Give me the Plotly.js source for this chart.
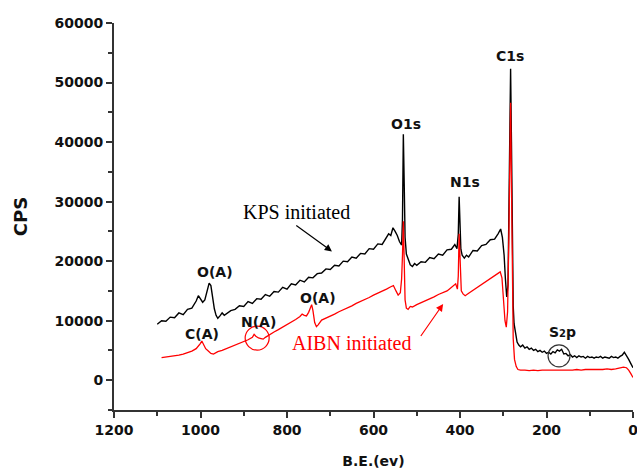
<!DOCTYPE html>
<html>
<head>
<meta charset="utf-8">
<script src="https://cdn.plot.ly/plotly-3.0.1.min.js"></script>
<style>html,body{margin:0;padding:0;background:#fff;}#chart{width:637px;height:470px;}</style>
</head>
<body>
<div id="chart"></div>
<script>
// KPS initiated (black) spectrum: binding energy (eV) and counts per second
const kpsBE = [1100,1090,1080,1070,1060,1050,1040,1030,1020,1010,1005,1000,995,990,985,980,976,972,968,964,960,955,950,945,940,930,920,910,900,890,880,870,860,850,840,830,820,810,800,790,780,770,760,750,740,730,720,710,700,690,680,670,660,650,640,630,620,610,600,590,580,570,565,560,555,550,545,540,535,533,531,529,527,524,520,515,510,505,500,490,480,470,460,450,440,430,420,412,407,404,402,400,398,395,390,385,380,370,360,350,340,330,320,312,306,302,298,295,292,289,287,285,283,281,279,277,275,272,268,264,260,255,250,245,240,235,230,225,220,215,210,205,200,195,190,185,180,175,170,165,160,155,150,145,140,135,130,125,120,115,110,105,100,95,90,85,80,75,70,65,60,55,50,45,40,35,30,25,20,15,10,5,0];
const kpsCPS = [9400,10000,9900,10600,10500,11300,11000,11900,12100,13300,14200,13700,13100,13500,14700,16300,15900,13600,12000,10900,10400,10800,11300,10900,11200,11700,11900,12500,12400,13200,12900,13700,13600,14400,14100,14900,14800,15600,15300,16200,16000,16800,16500,17300,17200,17900,18000,18700,18600,19300,19200,20000,19900,20700,20500,21300,21200,22100,22000,22900,22800,23900,24600,24300,25600,25000,24300,23300,22700,27000,41300,33000,24000,21200,20300,19400,19100,19600,19300,19900,19800,20600,20400,21200,21000,21900,22000,22800,22100,24500,30800,27000,22000,21000,20500,21000,20700,21800,21700,22600,22800,23600,23700,24600,25400,24000,21000,17000,14000,16000,30000,44000,52300,40000,22000,12500,9500,7800,6400,5900,5600,5900,5400,5600,5200,5400,5000,5200,4800,5000,4700,4900,4500,4700,4400,4800,4600,5100,4900,5200,4400,4500,4100,4300,3900,4100,3800,4100,3900,4000,3700,4000,3800,3900,3700,3900,3800,4000,3700,3900,3800,3700,4000,3800,3900,3700,4000,4200,4700,4200,3500,2800,2100];

// AIBN initiated (red) spectrum
const aibnBE = [1090,1080,1070,1060,1050,1040,1030,1020,1010,1005,1000,997,993,988,982,976,970,965,960,950,940,930,920,910,900,890,880,876,872,866,860,855,850,840,830,820,810,800,790,780,770,765,760,755,750,746,743,740,736,732,728,720,710,700,690,680,670,660,650,640,630,620,610,600,590,580,570,560,554,548,543,538,535,533,531,529,527,524,520,515,510,500,490,480,470,460,450,440,430,425,420,415,410,406,404,402,400,397,393,388,380,370,360,350,340,330,320,312,307,303,299,296,293,290,287,285,283,281,279,277,274,270,266,260,250,240,230,220,210,200,190,180,170,160,150,140,130,120,110,100,90,80,70,60,50,40,30,22,15,10,5,0];
const aibnCPS = [3800,3900,3950,4100,4200,4400,4600,4900,5300,5700,6200,6600,6000,5300,4900,4500,4400,4600,4800,5000,5300,5500,5800,6100,6400,6800,7200,7700,7400,7100,7000,6900,7200,7700,8100,8500,8900,9300,9800,10200,10700,11100,10900,10800,11400,12000,12700,11700,9700,9000,9300,10100,10400,10800,11100,11500,11800,12200,12500,12900,13200,13600,13900,14300,14600,15000,15300,15700,15900,15000,14300,14700,17000,21000,26700,20000,13500,12100,11900,12400,12300,12700,13000,13400,13700,14000,14400,14700,15000,15300,15600,15900,16200,15300,17500,24600,19000,15000,14500,14200,14600,15100,15600,16100,16600,17100,17500,18000,18200,17200,13000,10000,8900,11500,24000,38000,46600,33000,15000,7000,3500,2300,1800,1700,1700,1600,1700,1600,1700,1700,1600,1700,1700,1600,1700,1700,1800,1700,1800,1800,1700,1800,1800,1900,1800,1900,2000,2200,2100,1700,1100,450];

// tick settings
const xTicks = [1200,1000,800,600,400,200,0];
const yTicks = [0,10000,20000,30000,40000,50000,60000];

const boldFont = {family: 'DejaVu Sans, Arial, sans-serif', size: 14, color: '#111', weight: 'bold'};
const serifFont = {family: 'Liberation Serif, Times New Roman, serif', size: 20};

const traces = [
  {x: kpsBE, y: kpsCPS, type: 'scatter', mode: 'lines', line: {color: '#000', width: 1.4}, name: 'KPS initiated'},
  {x: aibnBE, y: aibnCPS, type: 'scatter', mode: 'lines', line: {color: '#ff0000', width: 1.3}, name: 'AIBN initiated'}
];

function lbl(text, x, y) {
  return {text: text, x: x, y: y, xref: 'x', yref: 'y', showarrow: false, font: boldFont, xanchor: 'center', yanchor: 'middle'};
}

const annotations = [
  lbl('O1s', 524, 43050),
  lbl('N1s', 389, 33320),
  lbl('C1s', 285, 54510),
  lbl('O(A)', 967, 18140),
  lbl('C(A)', 997, 7760),
  lbl('N(A)', 867, 9710),
  lbl('O(A)', 729, 13880),
  lbl('S<span style="font-size:10px">2</span>p', 163, 8140),
  {text: 'KPS initiated', x: 779, y: 28200, xref: 'x', yref: 'y', showarrow: false, font: Object.assign({}, serifFont, {color: '#000'})},
  {text: 'AIBN initiated', x: 650, y: 6290, xref: 'x', yref: 'y', showarrow: false, font: Object.assign({}, serifFont, {color: '#ff0000'})},
  {text: '', x: 696, y: 21630, ax: 782, ay: 26180, xref: 'x', yref: 'y', axref: 'x', ayref: 'y', showarrow: true, arrowhead: 2, arrowsize: 1.2, arrowwidth: 1.2, arrowcolor: '#000'},
  {text: '', x: 439, y: 12810, ax: 493, ay: 7180, xref: 'x', yref: 'y', axref: 'x', ayref: 'y', showarrow: true, arrowhead: 2, arrowsize: 1.2, arrowwidth: 1.2, arrowcolor: '#ff0000'}
];

const shapes = [
  {type: 'circle', xref: 'x', yref: 'y', xsizemode: 'pixel', ysizemode: 'pixel', xanchor: 869, yanchor: 7080, x0: -12, x1: 12, y0: -12, y1: 12, line: {color: '#ff0000', width: 1.2}},
  {type: 'circle', xref: 'x', yref: 'y', xsizemode: 'pixel', ysizemode: 'pixel', xanchor: 171, yanchor: 4100, x0: -11, x1: 11, y0: -11, y1: 11, line: {color: '#333', width: 1.2}}
];

const layout = {
  width: 637, height: 470,
  margin: {l: 114, r: 4, t: 23, b: 60},
  paper_bgcolor: '#fff', plot_bgcolor: '#fff',
  showlegend: false,
  xaxis: {
    range: [1200, 0], tickvals: xTicks, ticktext: xTicks.map(String),
    showgrid: false, zeroline: false, showline: true, linecolor: '#333', linewidth: 2,
    ticks: 'outside', ticklen: 6, tickwidth: 2, tickcolor: '#333',
    minor: {dtick: 100, ticks: 'outside', ticklen: 4, tickwidth: 2, tickcolor: '#333', showgrid: false},
    tickfont: boldFont, ticklabeloverflow: 'allow',
    title: {text: 'B.E.(ev)', font: boldFont, standoff: 19}
  },
  yaxis: {
    range: [-5000, 60000], tickvals: yTicks, ticktext: yTicks.map(String),
    showgrid: false, zeroline: false, showline: true, linecolor: '#333', linewidth: 2,
    ticks: 'outside', ticklen: 6, tickwidth: 2, tickcolor: '#333',
    minor: {dtick: 5000, ticks: 'outside', ticklen: 4, tickwidth: 2, tickcolor: '#333', showgrid: false},
    tickfont: boldFont,
    title: {text: 'CPS', font: Object.assign({}, boldFont, {size: 18}), standoff: 22}
  },
  annotations: annotations,
  shapes: shapes
};

Plotly.newPlot('chart', traces, layout, {displayModeBar: false, staticPlot: true});
</script>
</body>
</html>
